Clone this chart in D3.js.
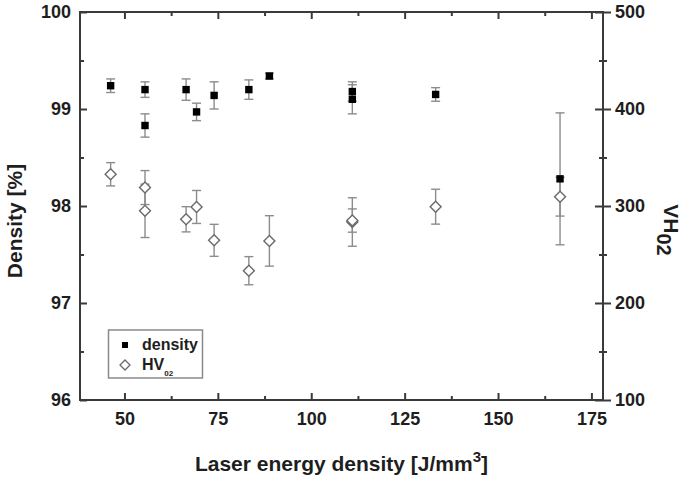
<!DOCTYPE html>
<html><head><meta charset="utf-8">
<script src="https://cdn.jsdelivr.net/npm/d3@7"></script>
<style>
html,body{margin:0;padding:0;background:#fff;}
svg{display:block;font-family:"Liberation Sans",Arial,sans-serif;}
</style></head>
<body>
<svg id="c" width="685" height="481"></svg>
<script>
// ---- data ----
const energy = [46.3, 55.5, 55.5, 66.5, 69.3, 74.0, 83.3, 88.8, 111.0, 111.0, 133.3, 166.6];
const density = [99.24, 99.20, 98.83, 99.20, 98.97, 99.14, 99.20, 99.34, 99.18, 99.10, 99.15, 98.28];
const densityErr = [0.07, 0.08, 0.12, 0.11, 0.09, 0.14, 0.10, 0.03, 0.10, 0.15, 0.07, 0.68];
const hvEnergy = [46.3, 55.5, 55.5, 66.5, 69.3, 74.0, 83.3, 88.8, 111.0, 111.0, 133.3, 166.6];
const hv = [332.7, 319, 295, 286.3, 299, 264.6, 233.3, 264, 283.5, 285, 299.3, 309.6];
const hvErr = [12, 17.5, 27.5, 13, 17, 16.5, 14.5, 26, 25, 12, 18, 20];
const xTicks = [50, 75, 100, 125, 150, 175];
const xMinor = [62.5, 87.5, 112.5, 137.5, 162.5];
const yLTicks = [96, 97, 98, 99, 100];
const yLMinor = [96.5, 97.5, 98.5, 99.5];
const yRTicks = [100, 200, 300, 400, 500];
const yRMinor = [150, 250, 350, 450];

const L = 80, R = 603, T = 12, B = 400;
const svg = d3.select("#c");
const x = d3.scaleLinear().domain([38.1, 178.1]).range([L, R]);
const yL = d3.scaleLinear().domain([96, 100]).range([B, T]);
const yR = d3.scaleLinear().domain([100, 500]).range([B, T]);

const axisCol = "#3a3a3a", textCol = "#1e1e1e";
const tickFont = "bold 18px 'Liberation Sans', Arial, sans-serif";

function styleAxis(g){
  g.select(".domain").remove();
  g.selectAll(".tick line").attr("stroke", axisCol).attr("stroke-width", 2);
  g.selectAll(".tick text").attr("fill", textCol).style("font", tickFont);
}

// bottom axis
svg.append("g").attr("transform", `translate(0,${B})`)
  .call(d3.axisBottom(x).tickValues(xTicks).tickSizeInner(-7).tickSizeOuter(0).tickPadding(12))
  .call(styleAxis);
svg.append("g").attr("transform", `translate(0,${B})`)
  .call(d3.axisBottom(x).tickValues(xMinor).tickSizeInner(-4).tickSizeOuter(0).tickFormat(""))
  .call(styleAxis);
// top axis (mirror)
svg.append("g").attr("transform", `translate(0,${T})`)
  .call(d3.axisTop(x).tickValues(xTicks).tickSizeInner(-7).tickSizeOuter(0).tickFormat(""))
  .call(styleAxis);
svg.append("g").attr("transform", `translate(0,${T})`)
  .call(d3.axisTop(x).tickValues(xMinor).tickSizeInner(-4).tickSizeOuter(0).tickFormat(""))
  .call(styleAxis);
// left axis
svg.append("g").attr("transform", `translate(${L},0)`)
  .call(d3.axisLeft(yL).tickValues(yLTicks).tickSizeInner(-7).tickSizeOuter(0).tickPadding(9).tickFormat(d3.format("d")))
  .call(styleAxis);
svg.append("g").attr("transform", `translate(${L},0)`)
  .call(d3.axisLeft(yL).tickValues(yLMinor).tickSizeInner(-4).tickSizeOuter(0).tickFormat(""))
  .call(styleAxis);
// right axis: outward ticks with labels, plus inward mirrored ticks
svg.append("g").attr("transform", `translate(${R},0)`)
  .call(d3.axisRight(yR).tickValues(yRTicks).tickSizeInner(8).tickSizeOuter(0).tickPadding(4).tickFormat(d3.format("d")))
  .call(styleAxis);
svg.append("g").attr("transform", `translate(${R},0)`)
  .call(d3.axisRight(yR).tickValues(yRMinor).tickSizeInner(4).tickSizeOuter(0).tickFormat(""))
  .call(styleAxis);
svg.append("g").attr("transform", `translate(${R},0)`)
  .call(d3.axisLeft(yR).tickValues(yRTicks).tickSizeInner(8).tickSizeOuter(0).tickFormat(""))
  .call(styleAxis);
svg.append("g").attr("transform", `translate(${R},0)`)
  .call(d3.axisLeft(yR).tickValues(yRMinor).tickSizeInner(4).tickSizeOuter(0).tickFormat(""))
  .call(styleAxis);

// frame
svg.append("rect").attr("x", L).attr("y", T).attr("width", R - L).attr("height", B - T)
  .attr("fill", "none").attr("stroke", axisCol).attr("stroke-width", 2);

// error bars
const errCol = "#8c8c8c", capW = 4.5;
function errBars(xs, ys, es, ys_scale){
  const g = svg.append("g").attr("stroke", errCol).attr("stroke-width", 1.4).attr("fill", "none");
  xs.forEach((xv, i) => {
    const cx = x(xv), y1 = ys_scale(ys[i] + es[i]), y2 = ys_scale(ys[i] - es[i]);
    g.append("line").attr("x1", cx).attr("x2", cx).attr("y1", y1).attr("y2", y2);
    g.append("line").attr("x1", cx - capW).attr("x2", cx + capW).attr("y1", y1).attr("y2", y1);
    g.append("line").attr("x1", cx - capW).attr("x2", cx + capW).attr("y1", y2).attr("y2", y2);
  });
}
errBars(hvEnergy, hv, hvErr, yR);
errBars(energy, density, densityErr, yL);

// diamonds (HV)
const diamond = d3.symbol().type(d3.symbolSquare).size(60);
svg.append("g").selectAll("path").data(hv).join("path")
  .attr("d", diamond)
  .attr("transform", (d, i) => `translate(${x(hvEnergy[i])},${yR(d)}) rotate(45)`)
  .attr("fill", "#fff").attr("stroke", "#6a6a6a").attr("stroke-width", 1.4);

// squares (density)
const sq = 7.4;
svg.append("g").selectAll("rect").data(density).join("rect")
  .attr("x", (d, i) => x(energy[i]) - sq / 2)
  .attr("y", d => yL(d) - sq / 2)
  .attr("width", sq).attr("height", sq).attr("fill", "#000");

// legend
const lg = svg.append("g");
lg.append("rect").attr("x", 108.5).attr("y", 330).attr("width", 94).attr("height", 48)
  .attr("fill", "#fff").attr("stroke", "#8a8a8a").attr("stroke-width", 1.5);
lg.append("rect").attr("x", 125 - 3).attr("y", 345 - 3).attr("width", 6).attr("height", 6).attr("fill", "#000");
lg.append("path").attr("d", d3.symbol().type(d3.symbolSquare).size(50))
  .attr("transform", "translate(125,365) rotate(45)")
  .attr("fill", "#fff").attr("stroke", "#6a6a6a").attr("stroke-width", 1.3);
lg.append("text").attr("x", 142).attr("y", 350).attr("fill", textCol)
  .style("font", "bold 16px 'Liberation Sans', Arial, sans-serif").text("density");
const hvt = lg.append("text").attr("x", 142).attr("y", 370).attr("fill", textCol)
  .style("font", "bold 16px 'Liberation Sans', Arial, sans-serif");
hvt.append("tspan").text("HV");
hvt.append("tspan").attr("dy", 6).style("font-size", "8px").text("02");

// axis titles
const titleFont = "bold 21px 'Liberation Sans', Arial, sans-serif";
const xt = svg.append("text").attr("x", (L + R) / 2).attr("y", 471).attr("text-anchor", "middle")
  .attr("fill", textCol).style("font", titleFont);
xt.append("tspan").text("Laser energy density [J/mm");
xt.append("tspan").attr("dy", -9).style("font-size", "15px").text("3");
xt.append("tspan").attr("dy", 9).text("]");

svg.append("text").attr("transform", "translate(22,221) rotate(-90)").attr("text-anchor", "middle")
  .attr("fill", textCol).style("font", titleFont).text("Density [%]");

const rt = svg.append("text").attr("transform", "translate(664,230) rotate(90)").attr("text-anchor", "middle")
  .attr("fill", textCol).style("font", titleFont);
rt.append("tspan").text("VH");
rt.append("tspan").attr("dy", 7).style("font-size", "20px").text("02");
</script>
</body></html>
